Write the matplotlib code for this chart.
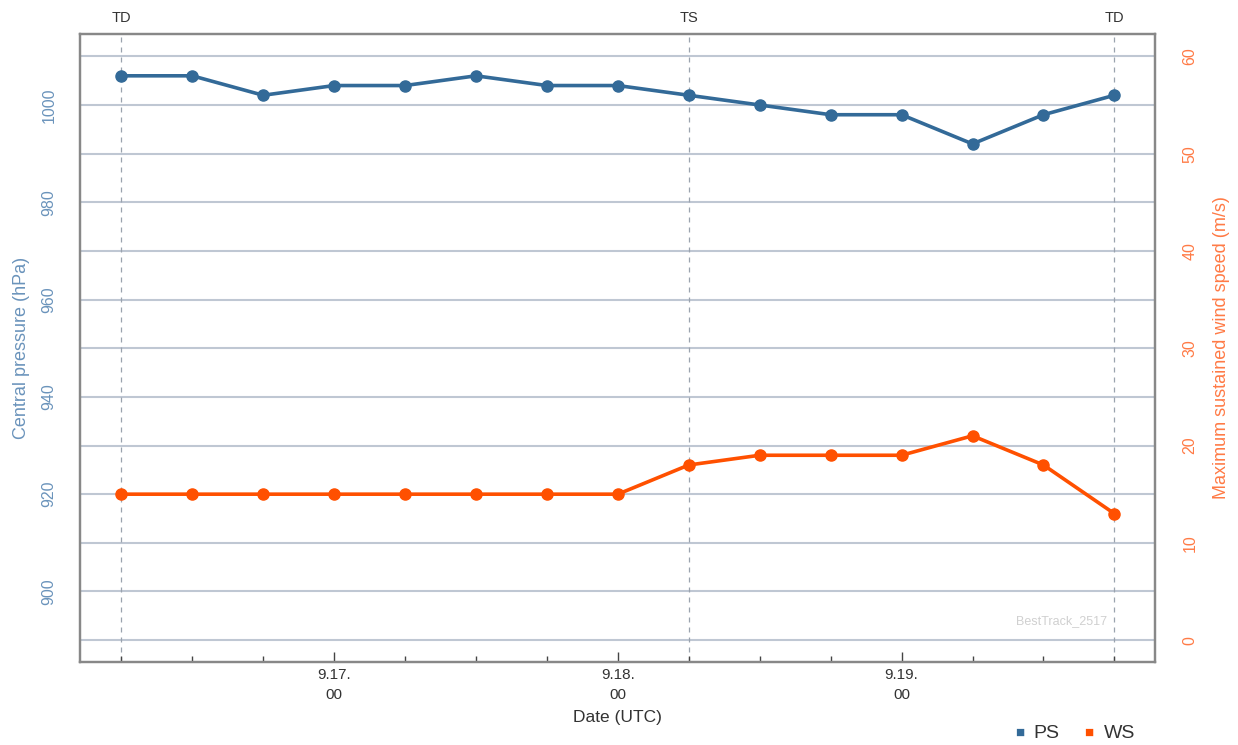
import numpy as np
import matplotlib.pyplot as plt

plt.rcParams["font.family"] = ["Liberation Sans", "DejaVu Sans"]

# -----------------------------
# Data (6-hourly, starting 9.16 06 UTC)
# -----------------------------

hours = [6, 12, 18, 24, 30, 36, 42, 48, 54, 60, 66, 72, 78, 84, 90]
pressure = [1006, 1006, 1002, 1004, 1004, 1006, 1004, 1004, 1002, 1000, 998, 998, 992, 998, 1002]
wind = [15, 15, 15, 15, 15, 15, 15, 15, 18, 19, 19, 19, 21, 18, 13]

stage_hours = [6, 54, 90]
stage_labels = ["TD", "TS", "TD"]

major_ticks = [24, 48, 72]
major_labels = ["9.17.\n00", "9.18.\n00", "9.19.\n00"]

PS_COLOR = "#336a98"
WS_COLOR = "#ff5000"
PS_TEXT = "#6a93bb"
WS_TEXT = "#ff7a45"
GRID = "#bfc7d3"

# -----------------------------
# Figure
# -----------------------------

fig = plt.figure(figsize=(12.38, 7.45), dpi=100)
ax = fig.add_axes([0.0646, 0.1114, 0.868, 0.843])
ax2 = ax.twinx()

ax.set_xlim(2.5, 93.4)
ax.set_ylim(885.5, 1014.6)
ax2.set_ylim(-2.25, 62.3)

for v in range(890, 1011, 10):
    ax.axhline(v, color=GRID, lw=1.5, zorder=1)

for h, lab in zip(stage_hours, stage_labels):
    ax.axvline(h, color="#9aa3ae", lw=0.9, ls=(0, (4, 4)), zorder=1)
    ax.text(h, 1016.5, lab, ha="center", va="bottom", fontsize=10.5, color="#333333")

ax.plot(hours, pressure, color=PS_COLOR, lw=2.6, marker="o", ms=8, zorder=3)
ax2.plot(hours, wind, color=WS_COLOR, lw=2.6, marker="o", ms=8, zorder=3)

# x ticks: small every 6h, bigger at 00 UTC, drawn inward
ax.set_xticks(hours, minor=True)
ax.set_xticks(major_ticks)
ax.set_xticklabels(major_labels, fontsize=11, color="#333333", linespacing=1.6)
ax.tick_params(axis="x", which="minor", direction="in", length=4, width=1, color="#444444")
ax.tick_params(axis="x", which="major", direction="in", length=7, width=1, color="#444444", pad=4)

ax.set_yticks(range(900, 1001, 20))
ax.tick_params(axis="y", length=0, labelcolor=PS_TEXT, labelsize=11.5, pad=17)
for t in ax.get_yticklabels():
    t.set_rotation(90)
    t.set_va("center")

ax2.set_yticks(range(0, 61, 10))
ax2.tick_params(axis="y", length=0, labelcolor=WS_TEXT, labelsize=11.5, pad=20)
for t in ax2.get_yticklabels():
    t.set_rotation(90)
    t.set_va("center")

ax.set_ylabel("Central pressure (hPa)", color=PS_TEXT, fontsize=13, labelpad=8)
ax2.set_ylabel("Maximum sustained wind speed (m/s)", color=WS_TEXT, fontsize=13, labelpad=11)
ax.set_xlabel("Date (UTC)", fontsize=12.5, color="#333333", labelpad=6)

for a in (ax, ax2):
    for s in a.spines.values():
        s.set_color("#888888")
        s.set_linewidth(1.6)

ax.text(0.956, 0.065, "BestTrack_2517", transform=ax.transAxes, ha="right", va="center",
        fontsize=9, color="#d0d0d0")

# legend
fig.text(0.820, 0.007, "\u25a0", color=PS_COLOR, fontsize=11, va="bottom")
fig.text(0.835, 0.004, "PS", color="#333333", fontsize=14, va="bottom")
fig.text(0.876, 0.007, "\u25a0", color=WS_COLOR, fontsize=11, va="bottom")
fig.text(0.892, 0.004, "WS", color="#333333", fontsize=14, va="bottom")

fig.savefig("out.png", dpi=100)
